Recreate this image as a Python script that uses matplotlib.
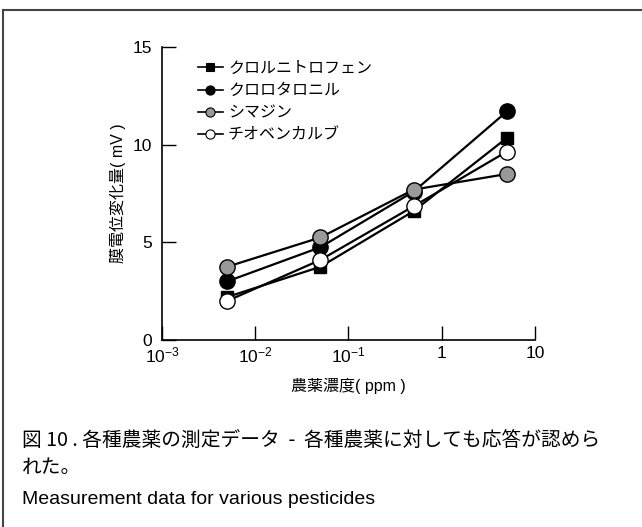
import matplotlib
matplotlib.use('Agg')
import matplotlib.pyplot as plt
from matplotlib.lines import Line2D
from matplotlib.ticker import FixedLocator, FixedFormatter, NullLocator

plt.rcParams['font.family'] = ['Liberation Sans', 'Noto Sans CJK JP']
plt.rcParams['mathtext.fontset'] = 'custom'
plt.rcParams['mathtext.rm'] = 'Liberation Sans'
plt.rcParams['mathtext.it'] = 'Liberation Sans'

# concentrations (ppm)
conc = [0.005, 0.05, 0.5, 5]

names = ['クロルニトロフェン', 'クロロタロニル', 'シマジン', 'チオベンカルブ']
chloronitrofen = [2.2, 3.75, 6.6, 10.35]
chlorothalonil = [3.0, 4.75, 7.6, 11.7]
simazine = [3.75, 5.25, 7.7, 8.5]
thiobencarb = [2.0, 4.1, 6.85, 9.65]

xticks = [1e-3, 1e-2, 1e-1, 1, 10]
xticklabels = ['$10^{-3}$', '$10^{-2}$', '$10^{-1}$', '1', '10']
yticks = [0, 5, 10, 15]

caption_jp = '図 10 . 各種農薬の測定データ  -  各種農薬に対しても応答が認めら'
caption_jp2 = 'れた。'
caption_en = 'Measurement data for various pesticides'

fig = plt.figure(figsize=(6.42, 5.27), dpi=100)
ax = fig.add_axes([0.2523, 0.3548, 0.581, 0.556])

styles = [
    (chloronitrofen, 's', 'black', 9),
    (chlorothalonil, 'o', 'black', 11),
    (simazine, 'o', '#999999', 11),
    (thiobencarb, 'o', 'white', 11),
]
handles = []
for (vals, mk, fc, ms), name in zip(styles, names):
    ax.plot(conc, vals, color='black', lw=1.6, marker=mk, ms=ms,
            mfc=fc, mec='black', mew=1.0)
    handles.append(Line2D([], [], color='black', lw=1.2, marker=mk,
                          ms=ms * 0.6, mfc=fc, mec='black', mew=0.8, label=name))

ax.set_xscale('log')
ax.set_xlim(1e-3, 10)
ax.set_ylim(0, 15)
ax.xaxis.set_major_locator(FixedLocator(xticks))
ax.xaxis.set_major_formatter(FixedFormatter(xticklabels))
ax.xaxis.set_minor_locator(NullLocator())
ax.set_yticks(yticks)

for s in ['top', 'right']:
    ax.spines[s].set_visible(False)
for s in ['left', 'bottom']:
    ax.spines[s].set_linewidth(1.2)
ax.tick_params(direction='in', length=10, width=1.0, labelsize=12.5, pad=4)
ax.tick_params(axis='y', pad=7)

ax.set_xlabel('農薬濃度( ppm )', fontsize=11.5, labelpad=9)
ax.set_ylabel('膜電位変化量( mV )', fontsize=11.5, labelpad=5)

ax.legend(handles=handles, loc='upper left', bbox_to_anchor=(0.07, 0.985),
          frameon=False, fontsize=11.5, handlelength=1.6, handletextpad=0.3,
          labelspacing=0.45, borderaxespad=0.2)

# frame lines (top and left)
fig.add_artist(Line2D([0.005, 1.0], [0.981, 0.981], color='#444444', lw=1.5,
                      transform=fig.transFigure))
fig.add_artist(Line2D([0.005, 0.005], [0.0, 0.981], color='#444444', lw=1.5,
                      transform=fig.transFigure))

fig.text(22 / 642, 1 - 440 / 527, caption_jp, fontsize=14.2, va='center',
         family=['Noto Sans CJK JP'])
fig.text(22 / 642, 1 - 467 / 527, caption_jp2, fontsize=14.2, va='center',
         family=['Noto Sans CJK JP'])
fig.text(22 / 642, 1 - 499 / 527, caption_en, fontsize=14, va='center')

fig.savefig('out.png', dpi=100)
